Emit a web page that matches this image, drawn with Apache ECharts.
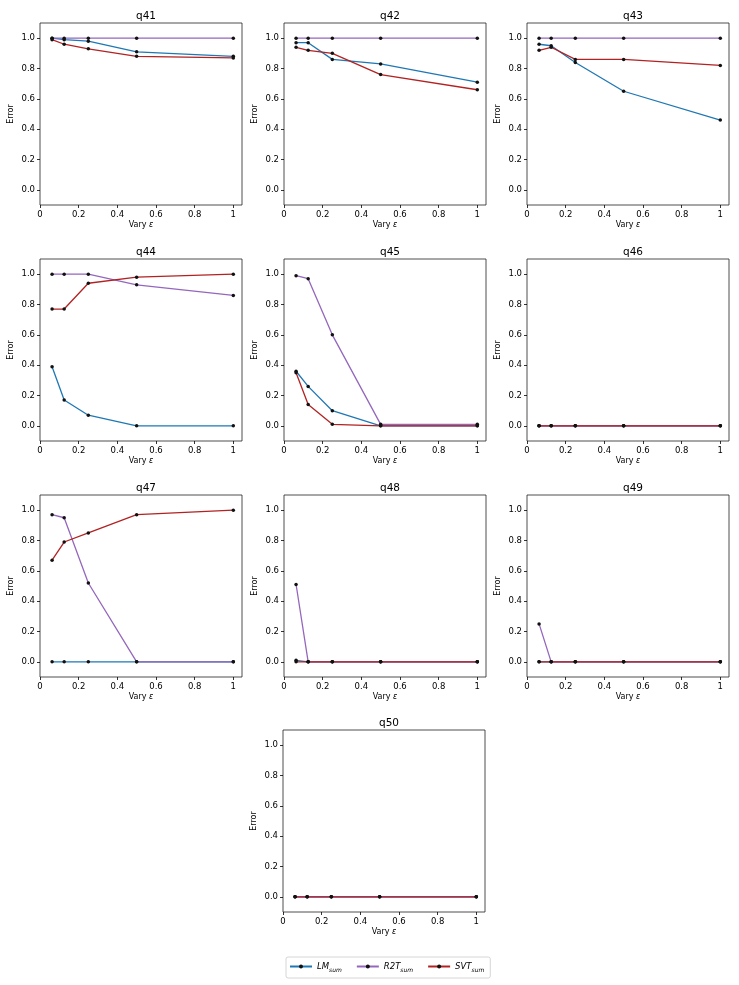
<!DOCTYPE html>
<html>
<head>
<meta charset="utf-8">
<script src="https://cdn.jsdelivr.net/npm/echarts@6/dist/echarts.min.js"></script>
<style>
  html, body { margin: 0; padding: 0; background: #fff; }
  #main { width: 739px; height: 985px; }
</style>
</head>
<body>
<div id="main"></div>
<script>
var epsValues = [0.0625, 0.125, 0.25, 0.5, 1];
var queryNames = ['q41', 'q42', 'q43', 'q44', 'q45', 'q46', 'q47', 'q48', 'q49', 'q50'];

// one row per query, one value per epsilon
var lmSum = [
  [1.00, 0.99, 0.98, 0.91, 0.88],
  [0.97, 0.97, 0.86, 0.83, 0.71],
  [0.96, 0.95, 0.84, 0.65, 0.46],
  [0.39, 0.17, 0.07, 0.00, 0.00],
  [0.36, 0.26, 0.10, 0.00, 0.00],
  [0.00, 0.00, 0.00, 0.00, 0.00],
  [0.00, 0.00, 0.00, 0.00, 0.00],
  [0.01, 0.00, 0.00, 0.00, 0.00],
  [0.00, 0.00, 0.00, 0.00, 0.00],
  [0.00, 0.00, 0.00, 0.00, 0.00]
];
var r2tSum = [
  [1.00, 1.00, 1.00, 1.00, 1.00],
  [1.00, 1.00, 1.00, 1.00, 1.00],
  [1.00, 1.00, 1.00, 1.00, 1.00],
  [1.00, 1.00, 1.00, 0.93, 0.86],
  [0.99, 0.97, 0.60, 0.01, 0.01],
  [0.00, 0.00, 0.00, 0.00, 0.00],
  [0.97, 0.95, 0.52, 0.00, 0.00],
  [0.51, 0.00, 0.00, 0.00, 0.00],
  [0.25, 0.00, 0.00, 0.00, 0.00],
  [0.00, 0.00, 0.00, 0.00, 0.00]
];
var svtSum = [
  [0.99, 0.96, 0.93, 0.88, 0.87],
  [0.94, 0.92, 0.90, 0.76, 0.66],
  [0.92, 0.94, 0.86, 0.86, 0.82],
  [0.77, 0.77, 0.94, 0.98, 1.00],
  [0.35, 0.14, 0.01, 0.00, 0.00],
  [0.00, 0.00, 0.00, 0.00, 0.00],
  [0.67, 0.79, 0.85, 0.97, 1.00],
  [0.00, 0.00, 0.00, 0.00, 0.00],
  [0.00, 0.00, 0.00, 0.00, 0.00],
  [0.00, 0.00, 0.00, 0.00, 0.00]
];
var xTicks = [0, 0.2, 0.4, 0.6, 0.8, 1];
var yTicks = [0, 0.2, 0.4, 0.6, 0.8, 1];

var methods = [
  { name: 'LM', data: lmSum, color: '#1f77b4' },
  { name: 'R2T', data: r2tSum, color: '#9467bd' },
  { name: 'SVT', data: svtSum, color: '#b22222' }
];

var colLeft = [40, 284, 527];
var rowTop = [23, 259, 495, 730];
var panelW = 202, panelH = 182;
var font = 'DejaVu Sans';

var grids = [], xAxes = [], yAxes = [], titles = [], series = [];

for (let i = 0; i < queryNames.length; i = i + 1) {
  let left = colLeft[i % 3];
  let top = rowTop[Math.floor(i / 3)];
  if (i === 9) left = 283;
  grids.push({
    left: left, top: top, width: panelW, height: panelH,
    show: true, borderColor: '#222', borderWidth: 0.8, backgroundColor: '#fff'
  });
  titles.push({
    text: queryNames[i],
    left: left + panelW / 2, top: top - 17,
    textAlign: 'center',
    textStyle: { fontFamily: font, fontSize: 10.5, fontWeight: 'normal', color: '#000' }
  });
  xAxes.push({
    gridIndex: i, type: 'value', min: 0, max: 1.045,
    name: 'Vary {e|ε}', nameLocation: 'middle', nameGap: 16,
    nameTextStyle: { fontFamily: font, fontSize: 8, color: '#000',
      rich: { e: { fontFamily: font, fontSize: 8, fontStyle: 'italic', color: '#000' } } },
    axisLine: { show: false, onZero: false },
    axisTick: { show: true, length: 3, customValues: xTicks, lineStyle: { color: '#000', width: 0.8 } },
    axisLabel: { customValues: xTicks, margin: 5, fontFamily: font, fontSize: 8.5, color: '#000',
      formatter: function (v) { return (v === 0 || v === 1) ? String(v) : v.toFixed(1); } },
    splitLine: { show: false }
  });
  yAxes.push({
    gridIndex: i, type: 'value', min: -0.1, max: 1.1,
    name: 'Error', nameLocation: 'middle', nameGap: 25,
    nameTextStyle: { fontFamily: font, fontSize: 8, color: '#000' },
    axisLine: { show: false, onZero: false },
    axisTick: { show: true, length: 3, customValues: yTicks, lineStyle: { color: '#000', width: 0.8 } },
    axisLabel: { customValues: yTicks, margin: 5, fontFamily: font, fontSize: 8.5, color: '#000',
      formatter: function (v) { return v.toFixed(1); } },
    splitLine: { show: false }
  });
  for (let m of methods) {
    series.push({
      name: m.name,
      type: 'line',
      xAxisIndex: i, yAxisIndex: i,
      data: epsValues.map(function (x, k) { return [x, m.data[i][k]]; }),
      symbol: 'circle', symbolSize: 3.5,
      itemStyle: { color: '#111' },
      lineStyle: { color: m.color, width: 1.3 },
      animation: false
    });
  }
}

var myChart = echarts.init(document.getElementById('main'), null, { renderer: 'canvas' });
var option = {
  backgroundColor: '#fff',
  animation: false,
  title: titles,
  grid: grids,
  xAxis: xAxes,
  yAxis: yAxes,
  legend: {
    data: ['LM', 'R2T', 'SVT'],
    left: 286, top: 957,
    itemWidth: 22, itemHeight: 5, itemGap: 14,
    padding: [5, 6, 5, 3],
    borderColor: '#ccc', borderWidth: 0.8, borderRadius: 2,
    formatter: function (name) { return '{n|' + name + '}{s|sum}'; },
    textStyle: {
      color: '#000',
      rich: {
        n: { fontFamily: font, fontSize: 8.5, fontStyle: 'italic', color: '#000' },
        s: { fontFamily: font, fontSize: 6, fontStyle: 'italic', color: '#000', padding: [7, 0, 0, 0] }
      }
    }
  },
  series: series
};
option && myChart.setOption(option);
</script>
</body>
</html>
